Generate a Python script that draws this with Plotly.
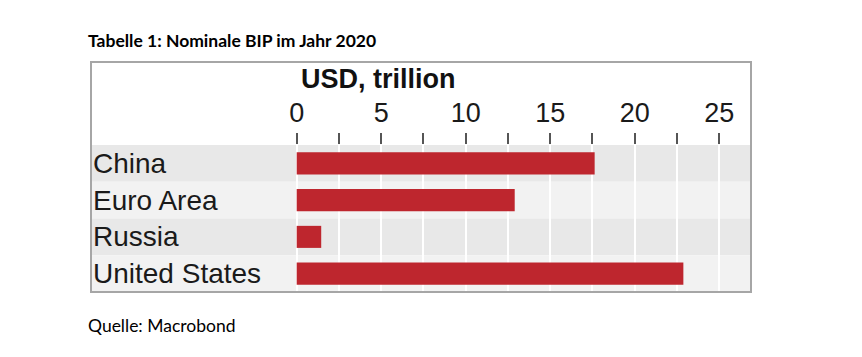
import plotly.graph_objects as go

countries = ["China", "Euro Area", "Russia", "United States"]
gdp_usd_trillion = [17.63, 12.9, 1.45, 22.88]
major_ticks = [0, 5, 10, 15, 20, 25]
minor_ticks = [2.5, 7.5, 12.5, 17.5, 22.5]
band_colors = ["#e8e8e8", "#f2f2f2", "#e8e8e8", "#f2f2f2"]

OFF = 8  # page body margin
W, H = 862 - OFF, 357 - OFF
L, R, T, B = 91 - OFF, 862 - 751, 145 - OFF, 357 - 292
pw = W - L - R
ph = H - T - B

def px_x(px):
    return (px - OFF - L) / pw

def px_y(py):
    return (H - B - (py - OFF)) / ph

fig = go.Figure()
fig.add_trace(go.Bar(
    x=gdp_usd_trillion, y=countries, orientation="h",
    marker=dict(color="#be262e", line=dict(width=0)),
    width=0.6, hoverinfo="x+y",
))

shapes = []
for i, c in enumerate(countries):
    shapes.append(dict(type="rect", xref="paper", yref="y", x0=0, x1=1,
                       y0=i - 0.5, y1=i + 0.5, fillcolor=band_colors[i],
                       line=dict(width=0), layer="below"))
shapes.append(dict(type="rect", xref="paper", yref="paper", x0=0, x1=1,
                   y0=0, y1=px_y(62), fillcolor="rgba(0,0,0,0)",
                   line=dict(color="#a6a6a6", width=2), layer="above"))

annotations = []
for c in countries:
    annotations.append(dict(xref="paper", yref="y", x=px_x(91), y=c, text=c,
                            showarrow=False, xanchor="left", yanchor="middle",
                            font=dict(family="Liberation Sans, Arial", size=28, color="#1a1a1a")))
annotations.append(dict(xref="paper", yref="paper", x=px_x(378.5), y=px_y(79),
                        text="<b>USD, trillion</b>", showarrow=False,
                        xanchor="center", yanchor="middle",
                        font=dict(family="Liberation Sans, Arial", size=27, color="#111111")))
annotations.append(dict(xref="paper", yref="paper", x=px_x(86), y=px_y(40),
                        text="<b>Tabelle 1: Nominale BIP im Jahr 2020</b>", showarrow=False,
                        xanchor="left", yanchor="middle",
                        font=dict(family="Lato, Open Sans", size=17.5, color="#000000")))
annotations.append(dict(xref="paper", yref="paper", x=px_x(86), y=px_y(325),
                        text="Quelle: Macrobond", showarrow=False,
                        xanchor="left", yanchor="middle",
                        font=dict(family="Lato, Open Sans", size=17.5, color="#000000")))

x0px = 296.7
ppu = 16.9
xr = [(91 - x0px) / ppu, (751 - x0px) / ppu]

fig.update_layout(
    width=W, height=H,
    margin=dict(l=L, r=R, t=T, b=B, pad=0),
    paper_bgcolor="white", plot_bgcolor="rgba(0,0,0,0)",
    showlegend=False,
    shapes=shapes, annotations=annotations,
    bargap=0.4,
    xaxis=dict(
        range=xr, side="top", tickmode="array", tickvals=major_ticks,
        ticktext=[str(v) for v in major_ticks],
        ticks="outside", ticklen=11, tickwidth=2, tickcolor="#555555",
        tickfont=dict(family="Liberation Sans, Arial", size=27, color="#1a1a1a"),
        showgrid=True, gridcolor="white", gridwidth=2,
        zeroline=False, showline=False,
        minor=dict(tickvals=minor_ticks, ticks="outside", ticklen=11, tickwidth=2,
                   tickcolor="#555555", showgrid=True, gridcolor="white", gridwidth=2),
        fixedrange=True,
    ),
    yaxis=dict(
        range=[3.5, -0.5], showticklabels=False, showgrid=False,
        zeroline=False, showline=False, ticks="", fixedrange=True,
    ),
)

fig.write_html("out.html")
